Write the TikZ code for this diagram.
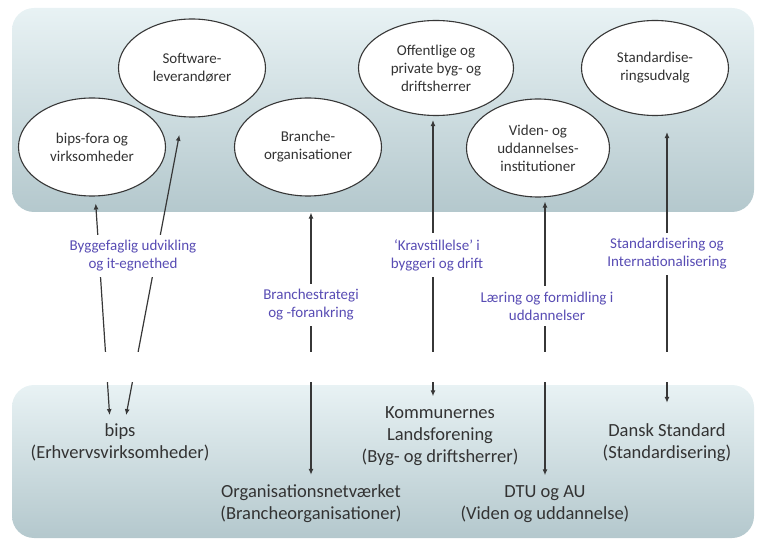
\documentclass[tikz,border=0pt]{standalone}
\usepackage{fontspec}
\setmainfont{Carlito}
\usetikzlibrary{arrows.meta,shapes.geometric}
\definecolor{lbl}{RGB}{88,76,180}
\definecolor{paneltop}{RGB}{232,242,244}
\definecolor{panelbot}{RGB}{180,200,205}
\definecolor{edge}{RGB}{55,55,55}

\begin{document}
\begin{tikzpicture}[x=1pt,y=-1pt,
	panel/.style={rounded corners=22pt, top color=paneltop, bottom color=panelbot},
	actor/.style={ellipse, draw=edge, line width=1.1pt, fill=white, inner sep=0pt, align=center, text=black!80, font=\fontsize{15}{18}\selectfont, minimum width=147pt, minimum height=98pt},
	party/.style={align=center, inner sep=2pt, text=black!80, font=\fontsize{18.5}{22}\selectfont},
	role/.style={align=center, fill=white, inner sep=6pt, text=lbl, font=\fontsize{15}{18}\selectfont},
	link/.style={line width=1.2pt, draw=edge, {Latex[length=6pt,width=5pt]}-{Latex[length=6pt,width=5pt]}}]
		%%%%% START %%%%%
		\useasboundingbox (0, 0) rectangle (766, 545);
		
		\shade[panel] (12, 8) rectangle (754, 212);
		\shade[panel] (12, 385) rectangle (754, 538);
		
		\node[actor] (bipsfora) at (92, 147) {bips-fora og\\virksomheder};
		\node[actor] (software) at (192, 68) {Software-\\leverandører};
		\node[actor] (branche) at (308, 147) {Branche-\\organisationer};
		\node[actor, minimum width=155pt, minimum height=95pt] (offentlige) at (436, 68) {Offentlige og\\private byg- og\\driftsherrer};
		\node[actor, minimum width=143pt] (viden) at (538, 148) {Viden- og\\uddannelses-\\institutioner};
		\node[actor, minimum height=95pt] (udvalg) at (655, 68) {Standardise-\\ringsudvalg};
		
		\node[party] (bips) at (120, 442) {bips\\(Erhvervsvirksomheder)};
		\node[party] (org) at (311, 504) {Organisationsnetværket\\(Brancheorganisationer)};
		\node[party] (kl) at (440, 436) {Kommunernes\\Landsforening\\(Byg- og driftsherrer)};
		\node[party] (dtu) at (545, 504) {DTU og AU\\(Viden og uddannelse)};
		\node[party] (ds) at (667, 443) {Dansk Standard\\(Standardisering)};
		
		\draw[link, shorten <=6pt, shorten >=7pt] ([xshift=-10pt]bips.north) -- (bipsfora);
		\draw[link, shorten <=6pt, shorten >=18pt] ([xshift=5pt]bips.north) -- (software);
		\draw[link, shorten <=8pt, shorten >=16pt] (org.north) -- (org.north |- branche.south);
		\draw[link, shorten <=8pt, shorten >=4pt] ([xshift=-7pt]kl.north) -- ([xshift=-7pt]kl.north |- offentlige.south);
		\draw[link, shorten <=8pt, shorten >=4pt] (dtu.north) -- (dtu.north |- viden.south);
		\draw[link, shorten <=19pt, shorten >=16pt] (ds.north) -- (ds.north |- udvalg.south);
		
		\fill[white] (0, 352) rectangle (766, 382);
		
		\node[role] at (133, 256) {Byggefaglig udvikling\\og it-egnethed};
		\node[role] at (311, 305) {Branchestrategi\\og -forankring};
		\node[role] at (437, 255) {`Kravstillelse' i\\byggeri og drift};
		\node[role] at (547, 306) {Læring og formidling i\\uddannelser};
		\node[role] at (667, 254) {Standardisering og\\Internationalisering};
		%%%%% END %%%%%
\end{tikzpicture}
\end{document}
